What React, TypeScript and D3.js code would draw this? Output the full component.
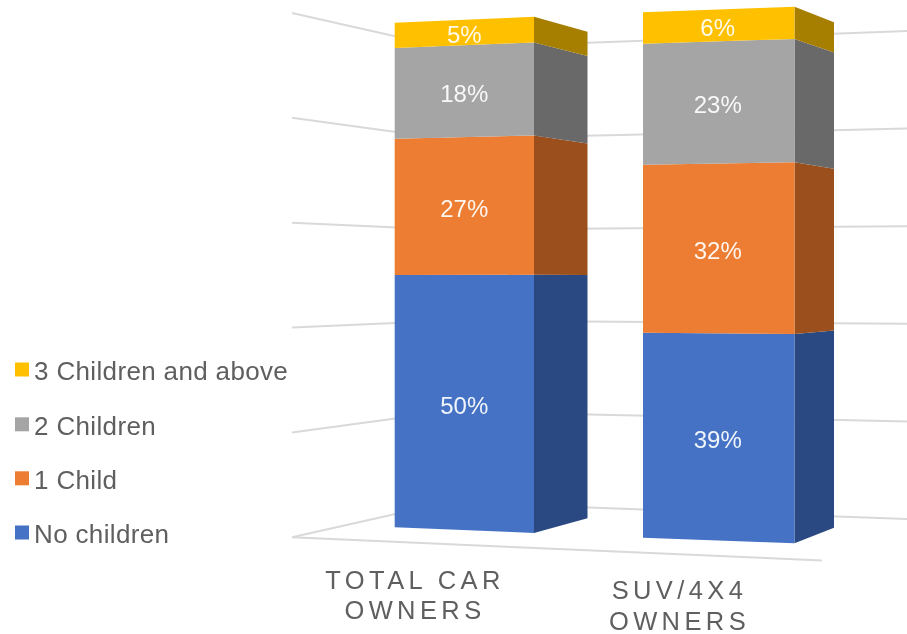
import React from "react";
import * as d3 from "d3";

// ---- data ----
const seriesNames = ["No children", "1 Child", "2 Children", "3 Children and above"];
const totalCarOwners = [50, 27, 18, 5];
const suvOwners = [39, 32, 23, 6];
const categoryLines = [["TOTAL CAR", "OWNERS"], ["SUV/4X4", "OWNERS"]];
const gridLevels = [0, 20, 40, 60, 80, 100];

// ---- styles ----
const frontColors = ["#4472C4", "#ED7D31", "#A5A5A5", "#FFC000"];
const sideColors = ["#2B4A82", "#9A501F", "#696969", "#A67E00"];
const textColor = "#5F5F5F";
const gridColor = "#D9D9D9";
const font = "'Liberation Sans', Arial, sans-serif";

// ---- perspective geometry: every projected edge is one linear scale ----
const pct = (bottom: number, top: number) => d3.scaleLinear().domain([0, 100]).range([bottom, top]);

const barGeometry = [
  {
    values: totalCarOwners,
    x: [394.7, 534, 587.5],
    y: [pct(527.3, 22.7), pct(533, 16.7), pct(518.3, 31.7)],
    labelX: 464.3,
    axisX: 413,
    axisY: [588.7, 619],
  },
  {
    values: suvOwners,
    x: [643, 794.5, 834],
    y: [pct(537.7, 12.3), pct(543.3, 6.7), pct(527.7, 22.3)],
    labelX: 717.7,
    axisX: 677.5,
    axisY: [599.3, 629.5],
  },
];

// wall corners: left end, hidden back corner, right end
const wallX = [292, 447, 907];
const wallY = [pct(537.3, 13), pct(502.4, 48), pct(519, 31)];
const floorFront: [number, number][] = [[292, 537.3], [822, 560.5]];

const legendY = [532.5, 478.3, 424.3, 369.5];
const line = d3.line<[number, number]>();

function stacked(values: number[]) {
  const cum = d3.cumsum(values);
  return values.map((v, i) => [cum[i] - v, cum[i]] as [number, number]);
}

export default function App() {
  return (
    <svg
      width={907}
      height={634}
      viewBox="0 0 907 634"
      style={{ position: "absolute", left: 0, top: 0, background: "#fff" }}
      fontFamily={font}
    >
      <defs>
        <filter id="soft" x="-2%" y="-2%" width="104%" height="104%">
          <feGaussianBlur stdDeviation="0.5" />
        </filter>
      </defs>
      <g filter="url(#soft)">
        {gridLevels.map((lv) => (
          <path
            key={lv}
            d={line(wallX.map((x, i) => [x, wallY[i](lv)] as [number, number])) ?? ""}
            fill="none"
            stroke={gridColor}
            strokeWidth={2}
          />
        ))}
        <path d={line(floorFront) ?? ""} fill="none" stroke={gridColor} strokeWidth={2} />

        {barGeometry.map((b, bi) => {
          const segs = stacked(b.values);
          return (
            <g key={bi}>
              {segs.map(([lo, hi], si) => (
                <g key={si}>
                  <path
                    d={
                      line([
                        [b.x[1], b.y[1](lo)],
                        [b.x[2], b.y[2](lo)],
                        [b.x[2], b.y[2](hi)],
                        [b.x[1], b.y[1](hi)],
                      ])! + "Z"
                    }
                    fill={sideColors[si]}
                  />
                  <path
                    d={
                      line([
                        [b.x[0], b.y[0](lo)],
                        [b.x[1], b.y[1](lo)],
                        [b.x[1], b.y[1](hi)],
                        [b.x[0], b.y[0](hi)],
                      ])! + "Z"
                    }
                    fill={frontColors[si]}
                  />
                </g>
              ))}
              {segs.map(([lo, hi], si) => {
                const mid = (lo + hi) / 2;
                const y = (b.y[0](mid) + b.y[1](mid)) / 2;
                return (
                  <text
                    key={si}
                    x={b.labelX}
                    y={y + 11}
                    textAnchor="middle"
                    fontSize={24}
                    fill="#FFFFFF"
                    fillOpacity={0.92}
                  >
                    {b.values[si]}%
                  </text>
                );
              })}
              {categoryLines[bi].map((t, li) => (
                <text
                  key={li}
                  x={b.axisX + 2}
                  y={b.axisY[li]}
                  textAnchor="middle"
                  fontSize={25.5}
                  letterSpacing={4.4}
                  fill={textColor}
                >
                  {t}
                </text>
              ))}
            </g>
          );
        })}

        {seriesNames.map((name, i) => (
          <g key={name}>
            <rect x={15} y={legendY[i] - 7} width={14} height={14} fill={frontColors[i]} />
            <text x={34} y={legendY[i] + 10.5} fontSize={26} letterSpacing={0.35} fill={textColor}>
              {name}
            </text>
          </g>
        ))}
      </g>
    </svg>
  );
}
